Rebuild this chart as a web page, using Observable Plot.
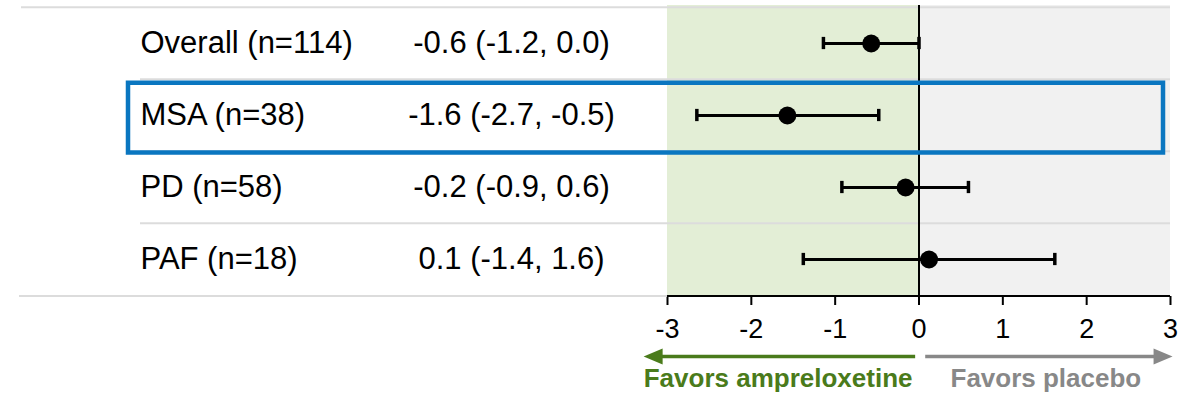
<!DOCTYPE html>
<html>
<head>
<meta charset="utf-8">
<script src="https://cdn.jsdelivr.net/npm/d3@7"></script>
<script src="https://cdn.jsdelivr.net/npm/@observablehq/plot@0.6"></script>
<style>
  body { margin: 0; background: #fff; }
  #chart svg { display: block; }
  [aria-label^="x-axis"] line, [aria-label^="x-axis"] path { stroke-width: 2px; }
</style>
</head>
<body>
<div id="chart"></div>
<script>
// ---- data ----
const rowKeys = ["Overall", "MSA", "PD", "PAF"];
const rowLabels = ["Overall (n=114)", "MSA (n=38)", "PD (n=58)", "PAF (n=18)"];
const estimateLabels = ["-0.6 (-1.2, 0.0)", "-1.6 (-2.7, -0.5)", "-0.2 (-0.9, 0.6)", "0.1 (-1.4, 1.6)"];
const estimates = [-0.57, -1.57, -0.16, 0.12];
const lowerCI = [-1.14, -2.65, -0.92, -1.38];
const upperCI = [0.0, -0.48, 0.59, 1.62];
const highlightRow = "MSA";
const xTicks = [-3, -2, -1, 0, 1, 2, 3];
const favorsLabels = ["Favors ampreloxetine", "Favors placebo"];
const favorsColors = ["#4a7b1b", "#888888"];
const arrowStart = [-0.04, 0.08];
const arrowEnd = [-3.07, 2.81];
const arrowDir = ["left", "right"];
const shadeStart = [-3, 0];
const shadeEnd = [0, 3];
const shadeColors = ["#e3eed6", "#f1f1f1"];

// ---- tables built from the arrays ----
const rows = rowKeys.map((k, i) => ({
  key: k, label: rowLabels[i], estLabel: estimateLabels[i],
  est: estimates[i], lo: lowerCI[i], hi: upperCI[i]
}));
const caps = rows.flatMap(r => [{key: r.key, x: r.lo}, {key: r.key, x: r.hi}]);
const shades = shadeStart.map((s, i) => ({x1: s, x2: shadeEnd[i], fill: shadeColors[i]}));
const arrows = favorsLabels.map((t, i) => ({
  label: t, color: favorsColors[i], x1: arrowStart[i], x2: arrowEnd[i], dir: arrowDir[i]
}));

// ---- layout ----
const W = 1195, H = 402, mL = 667, mR = 25, mT = 5, mB = 106;
const step = (H - mT - mB) / rowKeys.length;
const lastRow = rowKeys[rowKeys.length - 1];

const L = 18, HW = 8;
const leftHead = {draw(ctx) { ctx.moveTo(1, -HW); ctx.lineTo(-L, 0); ctx.lineTo(1, HW); ctx.closePath(); }};
const rightHead = {draw(ctx) { ctx.moveTo(-1, -HW); ctx.lineTo(L, 0); ctx.lineTo(-1, HW); ctx.closePath(); }};

const font = "'Liberation Sans', Arial, Helvetica, sans-serif";

const chart = Plot.plot({
  width: W, height: H,
  marginLeft: mL, marginRight: mR, marginTop: mT, marginBottom: mB,
  style: {fontFamily: font, fontSize: "27px", color: "#000", background: "#fff", overflow: "visible"},
  x: {domain: [-3, 3], ticks: xTicks, tickFormat: d => String(d), tickSize: 9, tickPadding: 13, label: null},
  y: {type: "band", domain: rowKeys, padding: 0, axis: null},
  marks: [
    // shaded halves
    Plot.rect(shades, {x1: "x1", x2: "x2", fill: "fill"}),
    // separators
    Plot.ruleY(rowKeys.slice(1), {y: d => d, dy: -step / 2, stroke: "#dcdcdc", strokeWidth: 2, insetLeft: -(mL - 140)}),
    Plot.ruleY([rowKeys[0]], {y: d => d, dy: -step / 2, stroke: "#dcdcdc", strokeWidth: 2, insetLeft: -(mL - 21)}),
    Plot.ruleY([lastRow], {y: d => d, dy: step / 2, stroke: "#dcdcdc", strokeWidth: 2, insetLeft: -(mL - 19)}),
    // axis line
    Plot.ruleY([lastRow], {y: d => d, dy: step / 2, stroke: "#000", strokeWidth: 2}),
    // zero line
    Plot.ruleX([0], {stroke: "#000", strokeWidth: 2}),
    // highlight box
    Plot.cell([highlightRow], {y: d => d, fill: "none", stroke: "#0a76c0", strokeWidth: 4.5,
      insetLeft: -(mL - 128), insetRight: 7, insetTop: 3.75, insetBottom: -1.5}),
    // text columns
    Plot.text(rows, {y: "key", text: "label", frameAnchor: "left", textAnchor: "start", dx: 140 - mL,
      fontSize: 31, fill: "#000"}),
    Plot.text(rows, {y: "key", text: "estLabel", frameAnchor: "left", textAnchor: "middle", dx: 511 - mL,
      fontSize: 31, fill: "#000"}),
    // error bars
    Plot.ruleY(rows, {y: "key", x1: "lo", x2: "hi", stroke: "#000", strokeWidth: 3}),
    Plot.tickX(caps, {x: "x", y: "key", stroke: "#000", strokeWidth: 3.5,
      insetTop: (step - 13) / 2, insetBottom: (step - 13) / 2}),
    Plot.dot(rows, {x: "est", y: "key", r: 9, fill: "#000", stroke: "none"}),
    // favors arrows
    Plot.ruleY(arrows, {y: () => lastRow, x1: "x1", x2: "x2", stroke: "color", strokeWidth: 3.5, dy: 356.5 - (H - mB - step / 2)}),
    Plot.dot(arrows.filter(a => a.dir === "left"), {x: "x2", y: () => lastRow, dy: 356.5 - (H - mB - step / 2),
      symbol: leftHead, fill: "color", stroke: "none", r: 8}),
    Plot.dot(arrows.filter(a => a.dir === "right"), {x: "x2", y: () => lastRow, dy: 356.5 - (H - mB - step / 2),
      symbol: rightHead, fill: "color", stroke: "none", r: 8}),
    Plot.text([arrows[0]], {x: () => 0, text: "label", frameAnchor: "bottom", textAnchor: "end", dx: -6.5,
      dy: 395 - (H - mB) - 8.3, fill: "color", fontSize: 26, fontWeight: "bold"}),
    Plot.text([arrows[1]], {x: () => 0, text: "label", frameAnchor: "bottom", textAnchor: "start", dx: 31.5,
      dy: 395 - (H - mB) - 8.3, fill: "color", fontSize: 26, fontWeight: "bold"})
  ]
});
document.getElementById("chart").appendChild(chart);
</script>
</body>
</html>
